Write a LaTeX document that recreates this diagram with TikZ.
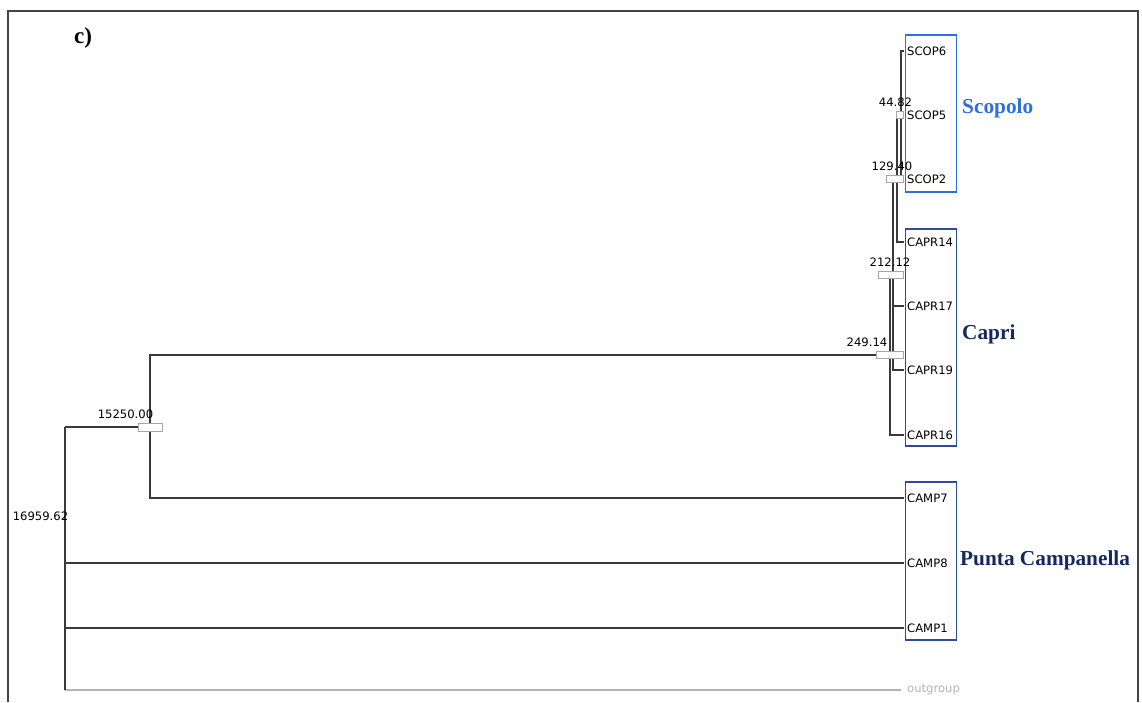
\documentclass[tikz,border=0pt]{standalone}
\usepackage{fontspec}
\setmainfont{Liberation Serif}
\newfontfamily\leaffont{DejaVu Sans}
\newfontfamily\grpfont{Liberation Serif}
\definecolor{treeline}{HTML}{3A3A3A}
\definecolor{scopblue}{HTML}{2F6FE4}
\definecolor{capribox}{HTML}{2E4C9C}
\definecolor{navy}{HTML}{14295F}
\definecolor{outgray}{HTML}{B4B4B4}
\definecolor{framegray}{HTML}{444444}
\begin{document}
\begin{tikzpicture}[x=1pt,y=-1pt,
  branch/.style={draw=treeline,line width=1.2pt},
  leaf/.style={anchor=west,inner sep=0pt,font=\leaffont\fontsize{11.6}{12}\selectfont,text=black},
  bar/.style={draw=gray!70,fill=white,line width=0.8pt,minimum height=7pt,inner sep=0pt},
  numlab/.style={inner sep=0pt,font=\leaffont\fontsize{11.6}{12}\selectfont,text=black},
  grp/.style={anchor=west,inner sep=0pt,font=\grpfont\bfseries\fontsize{21.3}{22}\selectfont},
  grpbox/.style={line width=1.2pt}]
\useasboundingbox (0,0) rectangle (1142,702);
\fill[white] (0,0) rectangle (1142,702);
% frame
\draw[framegray,line width=1.4pt] (8,702) -- (8,11) -- (1138,11) -- (1138,702);
% title
\node[inner sep=0pt,font=\bfseries\fontsize{23}{24}\selectfont] (title) at (83,38) {c)};
% group boxes
\draw[grpbox,draw=scopblue] (905.5,35) rectangle (956.5,192);
\draw[grpbox,draw=capribox] (905.5,229) rectangle (956.5,446);
\draw[grpbox,draw=capribox] (905.5,482) rectangle (956.5,640);
% internal nodes
\coordinate (n4482) at (901,115);
\coordinate (n12940) at (897,178);
\coordinate (n21212) at (893,275);
\coordinate (n24914) at (890,355);
\coordinate (n15250) at (150,427);
\coordinate (root) at (65,427);
\coordinate (rootb) at (65,690);
% leaves
\node[leaf] (scop6) at (907,51) {SCOP6};
\node[leaf] (scop5) at (907,115) {SCOP5};
\node[leaf] (scop2) at (907,179) {SCOP2};
\node[leaf] (capr14) at (907,242) {CAPR14};
\node[leaf] (capr17) at (907,306) {CAPR17};
\node[leaf] (capr19) at (907,370) {CAPR19};
\node[leaf] (capr16) at (907,435) {CAPR16};
\node[leaf] (camp7) at (907,498) {CAMP7};
\node[leaf] (camp8) at (907,563) {CAMP8};
\node[leaf] (camp1) at (907,628) {CAMP1};
\node[leaf,text=outgray] (outg) at (907,690) {outgroup};
% branches
\draw[draw=outgray,line width=1.2pt] (rootb) -- ([xshift=-6pt]outg.west);
\draw[branch] (n4482) |- ([xshift=-3pt]scop6.west);
\draw[branch] (n4482) -- ([xshift=-3pt]scop5.west);
\draw[branch] (n4482) |- ([xshift=-3pt]scop2.west);
\draw[branch] (n12940) |- (n4482);
\draw[branch] (n12940) |- ([xshift=-3pt]capr14.west);
\draw[branch] (n21212) |- (n12940);
\draw[branch] (n21212) |- ([xshift=-3pt]capr17.west);
\draw[branch] (n21212) |- ([xshift=-3pt]capr19.west);
\draw[branch] (n24914) |- (n21212);
\draw[branch] (n24914) |- ([xshift=-3pt]capr16.west);
\draw[branch] (n15250) |- (n24914);
\draw[branch] (n15250) |- ([xshift=-3pt]camp7.west);
\draw[branch] (root) -- (n15250);
\draw[branch] (root) |- ([xshift=-3pt]camp8.west);
\draw[branch] (root) |- ([xshift=-3pt]camp1.west);
\draw[branch] (root) -- (rootb);
% node bars
\node[bar,minimum width=7pt] (b4482) at (899.5,115) {};
\node[bar,minimum width=17pt] (b12940) at (894.5,178.5) {};
\node[bar,minimum width=25pt] (b21212) at (890.5,274.5) {};
\node[bar,minimum width=27pt] (b24914) at (889.5,354.5) {};
\node[bar,minimum width=24pt,minimum height=8pt] (b15250) at (150,427) {};
% node labels
\node[numlab] (l4482) at (895.5,102) {44.82};
\node[numlab] (l12940) at (892,166) {129.40};
\node[numlab] (l21212) at (890,262) {212.12};
\node[numlab] (l24914) at (867,342) {249.14};
\node[numlab] (l15250) at (125.5,414) {15250.00};
\node[numlab] (lroot) at (40.5,516) {16959.62};
% group labels
\node[grp,text=scopblue] (gscop) at (962,108) {Scopolo};
\node[grp,text=navy] (gcapri) at (962,334) {Capri};
\node[grp,text=navy] (gcamp) at (960,560) {Punta Campanella};
\end{tikzpicture}
\end{document}
